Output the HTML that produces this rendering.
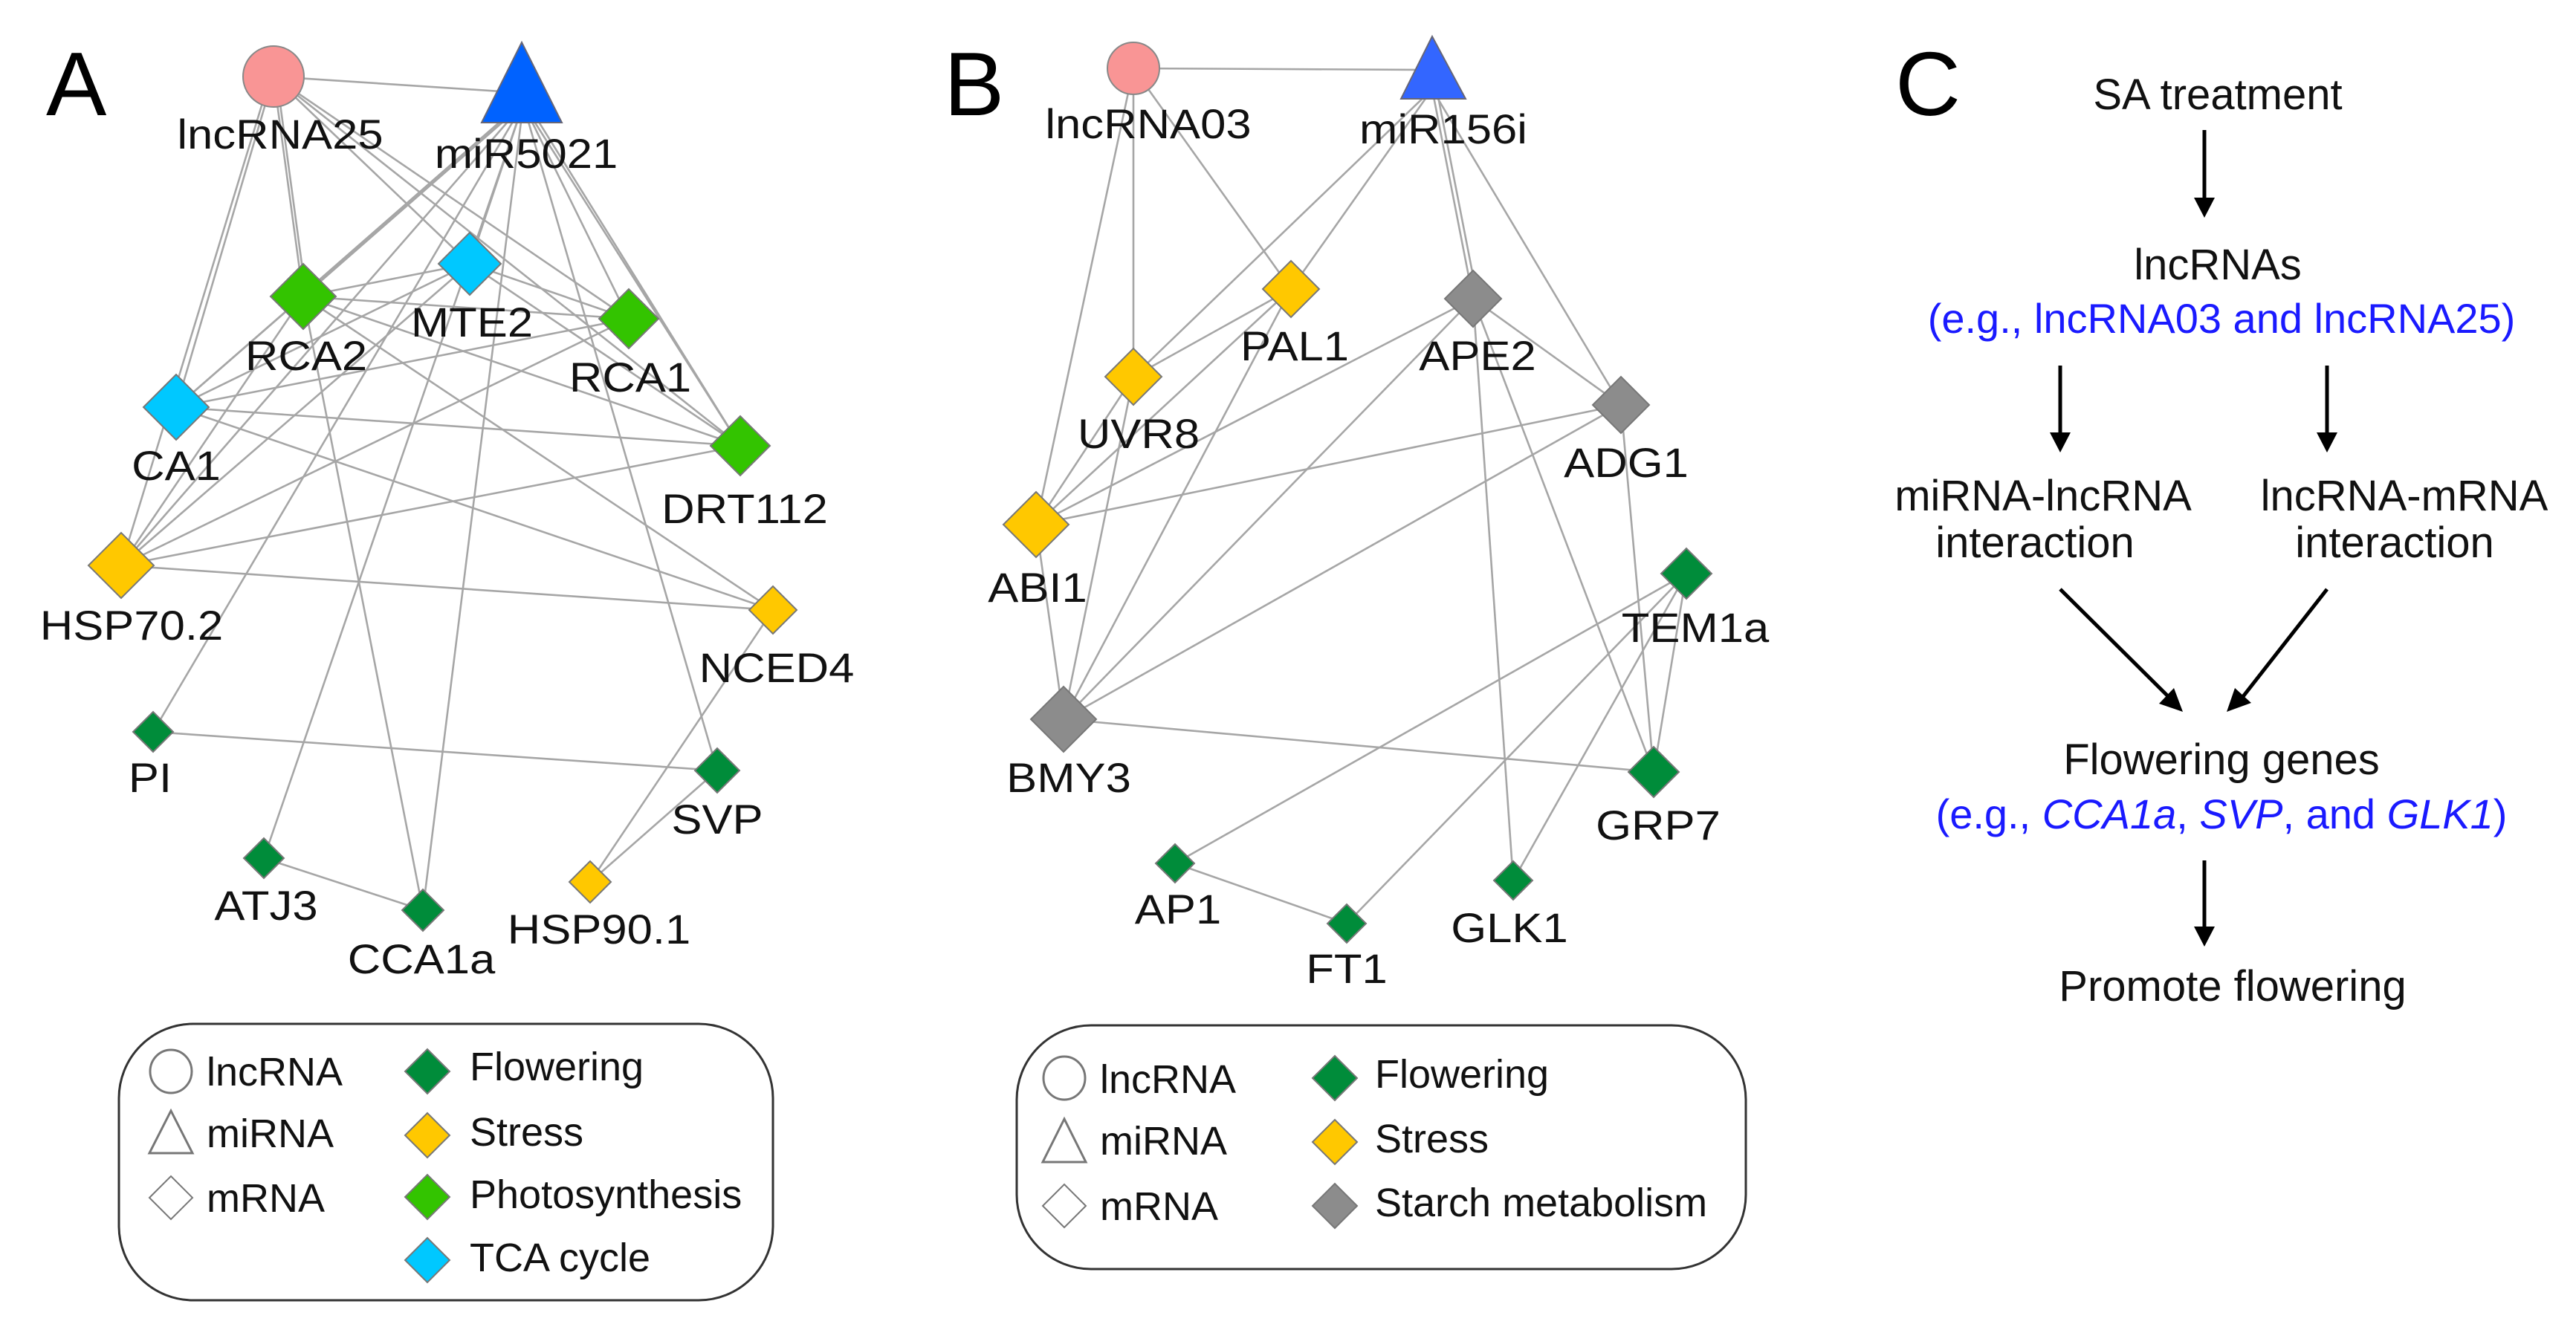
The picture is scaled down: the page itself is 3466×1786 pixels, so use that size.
<!DOCTYPE html>
<html><head><meta charset="utf-8"><style>
html,body{margin:0;padding:0;background:#fff}
svg{display:block}
.n{font-family:"Liberation Sans",Arial,sans-serif;font-size:56px;fill:#111}
.lg{font-family:"Liberation Sans",Arial,sans-serif;font-size:54px;fill:#111}
.c{font-family:"Liberation Sans",Arial,sans-serif;font-size:58px;fill:#111}
.cb{font-family:"Liberation Sans",Arial,sans-serif;font-size:56px;fill:#1a1aff}
.big{font-family:"Liberation Sans",Arial,sans-serif;font-size:122px;fill:#000}
.e line{stroke:#a6a6a6;stroke-width:2.6}
.d{stroke:#777;stroke-width:2;vector-effect:non-scaling-stroke}
</style></head><body>
<svg width="3466" height="1786" viewBox="0 0 3466 1786" xmlns="http://www.w3.org/2000/svg">
<rect width="3466" height="1786" fill="#fff"/>
<text class="big" x="62" y="155">A</text>
<text class="big" x="1270" y="155">B</text>
<text class="big" x="2550" y="155">C</text>

<!-- Panel A edges -->
<g class="e">
<line x1="368" y1="103" x2="704" y2="125"/>
<line x1="368" y1="103" x2="408" y2="399"/>
<line x1="372" y1="103" x2="412" y2="399"/>
<line x1="368" y1="103" x2="632" y2="355"/>
<line x1="368" y1="103" x2="846" y2="429"/>
<line x1="368" y1="103" x2="996" y2="600"/>
<line x1="368" y1="103" x2="237" y2="548"/>
<line x1="364" y1="103" x2="163" y2="761"/>
<line x1="704" y1="140" x2="408" y2="399"/>
<line x1="700" y1="140" x2="404" y2="399"/>
<line x1="704" y1="140" x2="237" y2="548"/>
<line x1="704" y1="140" x2="163" y2="761"/>
<line x1="704" y1="140" x2="632" y2="355"/>
<line x1="704" y1="140" x2="846" y2="429"/>
<line x1="704" y1="140" x2="996" y2="600"/>
<line x1="710" y1="140" x2="996" y2="600"/>
<line x1="704" y1="140" x2="206" y2="985"/>
<line x1="704" y1="140" x2="355" y2="1155"/>
<line x1="704" y1="140" x2="569" y2="1225"/>
<line x1="704" y1="140" x2="965" y2="1037"/>
<line x1="408" y1="399" x2="632" y2="355"/>
<line x1="408" y1="399" x2="846" y2="429"/>
<line x1="408" y1="399" x2="996" y2="600"/>
<line x1="408" y1="399" x2="237" y2="548"/>
<line x1="408" y1="399" x2="163" y2="761"/>
<line x1="408" y1="399" x2="569" y2="1225"/>
<line x1="408" y1="399" x2="1040" y2="821"/>
<line x1="632" y1="355" x2="237" y2="548"/>
<line x1="632" y1="355" x2="163" y2="761"/>
<line x1="632" y1="355" x2="846" y2="429"/>
<line x1="632" y1="355" x2="996" y2="600"/>
<line x1="237" y1="548" x2="846" y2="429"/>
<line x1="237" y1="548" x2="996" y2="600"/>
<line x1="237" y1="548" x2="1040" y2="821"/>
<line x1="163" y1="761" x2="996" y2="600"/>
<line x1="163" y1="761" x2="846" y2="429"/>
<line x1="163" y1="761" x2="1040" y2="821"/>
<line x1="206" y1="985" x2="965" y2="1037"/>
<line x1="355" y1="1155" x2="569" y2="1225"/>
<line x1="1040" y1="821" x2="794" y2="1187"/>
<line x1="965" y1="1037" x2="794" y2="1187"/>
</g>

<!-- Panel B edges -->
<g class="e">
<line x1="1525" y1="92" x2="1927" y2="94"/>
<line x1="1525" y1="92" x2="1525" y2="507"/>
<line x1="1525" y1="92" x2="1737" y2="389"/>
<line x1="1525" y1="92" x2="1394" y2="706"/>
<line x1="1927" y1="120" x2="1525" y2="507"/>
<line x1="1927" y1="120" x2="1737" y2="389"/>
<line x1="1927" y1="120" x2="1982" y2="402"/>
<line x1="1933" y1="120" x2="1988" y2="402"/>
<line x1="1927" y1="120" x2="2181" y2="545"/>
<line x1="1982" y1="402" x2="2036" y2="1185"/>
<line x1="1982" y1="402" x2="2181" y2="545"/>
<line x1="1982" y1="402" x2="2225" y2="1039"/>
<line x1="1982" y1="402" x2="1394" y2="706"/>
<line x1="1982" y1="402" x2="1431" y2="968"/>
<line x1="1737" y1="389" x2="1525" y2="507"/>
<line x1="1737" y1="389" x2="1394" y2="706"/>
<line x1="1737" y1="389" x2="1431" y2="968"/>
<line x1="1525" y1="507" x2="1394" y2="706"/>
<line x1="1525" y1="507" x2="1431" y2="968"/>
<line x1="2181" y1="545" x2="1394" y2="706"/>
<line x1="2181" y1="545" x2="1431" y2="968"/>
<line x1="2181" y1="545" x2="2225" y2="1039"/>
<line x1="1394" y1="706" x2="1431" y2="968"/>
<line x1="1431" y1="968" x2="2225" y2="1039"/>
<line x1="2269" y1="772" x2="2225" y2="1039"/>
<line x1="2269" y1="772" x2="1581" y2="1162"/>
<line x1="2269" y1="772" x2="1812" y2="1243"/>
<line x1="2269" y1="772" x2="2036" y2="1185"/>
<line x1="1581" y1="1162" x2="1812" y2="1243"/>
</g>

<!-- Panel A nodes -->
<circle cx="368" cy="103" r="41" fill="#f99595" stroke="#888" stroke-width="2"/>
<polygon points="702,57 648,165 756,165" fill="#0062ff" stroke="#667" stroke-width="2"/>
<g>
<polygon class="d" fill="#33c400" points="-1,0 0,-1 1,0 0,1" transform="translate(408,399) scale(44)"/>
<polygon class="d" fill="#00c8ff" points="-1,0 0,-1 1,0 0,1" transform="translate(632,355) scale(42)"/>
<polygon class="d" fill="#33c400" points="-1,0 0,-1 1,0 0,1" transform="translate(846,429) scale(40)"/>
<polygon class="d" fill="#00c8ff" points="-1,0 0,-1 1,0 0,1" transform="translate(237,548) scale(44)"/>
<polygon class="d" fill="#33c400" points="-1,0 0,-1 1,0 0,1" transform="translate(996,600) scale(40)"/>
<polygon class="d" fill="#ffc800" points="-1,0 0,-1 1,0 0,1" transform="translate(163,761) scale(44)"/>
<polygon class="d" fill="#ffc800" points="-1,0 0,-1 1,0 0,1" transform="translate(1040,821) scale(32)"/>
<polygon class="d" fill="#008c3a" points="-1,0 0,-1 1,0 0,1" transform="translate(206,985) scale(27)"/>
<polygon class="d" fill="#008c3a" points="-1,0 0,-1 1,0 0,1" transform="translate(965,1037) scale(30)"/>
<polygon class="d" fill="#008c3a" points="-1,0 0,-1 1,0 0,1" transform="translate(355,1155) scale(27)"/>
<polygon class="d" fill="#008c3a" points="-1,0 0,-1 1,0 0,1" transform="translate(569,1225) scale(28)"/>
<polygon class="d" fill="#ffc800" points="-1,0 0,-1 1,0 0,1" transform="translate(794,1187) scale(28)"/>
</g>
<g class="n" text-anchor="middle">
<text transform="translate(377,200) scale(1.1,1)">lncRNA25</text>
<text transform="translate(708,226) scale(1.1,1)">miR5021</text>
<text transform="translate(412,498) scale(1.1,1)">RCA2</text>
<text transform="translate(635,453) scale(1.1,1)">MTE2</text>
<text transform="translate(848,527) scale(1.1,1)">RCA1</text>
<text transform="translate(237,646) scale(1.1,1)">CA1</text>
<text transform="translate(1002,704) scale(1.1,1)">DRT112</text>
<text transform="translate(177,861) scale(1.1,1)">HSP70.2</text>
<text transform="translate(1045,918) scale(1.1,1)">NCED4</text>
<text transform="translate(202,1066) scale(1.1,1)">PI</text>
<text transform="translate(965,1122) scale(1.1,1)">SVP</text>
<text transform="translate(358,1238) scale(1.1,1)">ATJ3</text>
<text transform="translate(567,1310) scale(1.1,1)">CCA1a</text>
<text transform="translate(806,1270) scale(1.1,1)">HSP90.1</text>
</g>

<!-- Panel B nodes -->
<circle cx="1525" cy="92" r="35" fill="#f99595" stroke="#888" stroke-width="2"/>
<polygon points="1927,49 1885,133 1972,133" fill="#3366ff" stroke="#667" stroke-width="2"/>
<g>
<polygon class="d" fill="#ffc800" points="-1,0 0,-1 1,0 0,1" transform="translate(1737,389) scale(38)"/>
<polygon class="d" fill="#8c8c8c" points="-1,0 0,-1 1,0 0,1" transform="translate(1982,402) scale(38)"/>
<polygon class="d" fill="#ffc800" points="-1,0 0,-1 1,0 0,1" transform="translate(1525,507) scale(38)"/>
<polygon class="d" fill="#8c8c8c" points="-1,0 0,-1 1,0 0,1" transform="translate(2181,545) scale(38)"/>
<polygon class="d" fill="#ffc800" points="-1,0 0,-1 1,0 0,1" transform="translate(1394,706) scale(44)"/>
<polygon class="d" fill="#008c3a" points="-1,0 0,-1 1,0 0,1" transform="translate(2269,772) scale(34)"/>
<polygon class="d" fill="#8c8c8c" points="-1,0 0,-1 1,0 0,1" transform="translate(1431,968) scale(44)"/>
<polygon class="d" fill="#008c3a" points="-1,0 0,-1 1,0 0,1" transform="translate(2225,1039) scale(34)"/>
<polygon class="d" fill="#008c3a" points="-1,0 0,-1 1,0 0,1" transform="translate(1581,1162) scale(26)"/>
<polygon class="d" fill="#008c3a" points="-1,0 0,-1 1,0 0,1" transform="translate(1812,1243) scale(26)"/>
<polygon class="d" fill="#008c3a" points="-1,0 0,-1 1,0 0,1" transform="translate(2036,1185) scale(26)"/>
</g>
<g class="n" text-anchor="middle">
<text transform="translate(1545,186) scale(1.1,1)">lncRNA03</text>
<text transform="translate(1942,193) scale(1.1,1)">miR156i</text>
<text transform="translate(1742,485) scale(1.1,1)">PAL1</text>
<text transform="translate(1988,498) scale(1.1,1)">APE2</text>
<text transform="translate(1532,603) scale(1.1,1)">UVR8</text>
<text transform="translate(2188,642) scale(1.1,1)">ADG1</text>
<text transform="translate(1396,810) scale(1.1,1)">ABI1</text>
<text transform="translate(2281,864) scale(1.1,1)">TEM1a</text>
<text transform="translate(1438,1066) scale(1.1,1)">BMY3</text>
<text transform="translate(2231,1130) scale(1.1,1)">GRP7</text>
<text transform="translate(1585,1243) scale(1.1,1)">AP1</text>
<text transform="translate(1812,1323) scale(1.1,1)">FT1</text>
<text transform="translate(2031,1268) scale(1.1,1)">GLK1</text>
</g>

<!-- Legend A -->
<rect x="160" y="1378" width="880" height="372" rx="100" ry="100" fill="none" stroke="#333" stroke-width="3"/>
<ellipse cx="230" cy="1442" rx="28" ry="29" fill="none" stroke="#777" stroke-width="3"/>
<polygon points="230,1495 201,1552 259,1552" fill="none" stroke="#777" stroke-width="3"/>
<polygon class="d" fill="none" points="-1,0 0,-1 1,0 0,1" transform="translate(230,1612) scale(29)"/>
<polygon class="d" fill="#008c3a" points="-1,0 0,-1 1,0 0,1" transform="translate(575,1442) scale(30)"/>
<polygon class="d" fill="#ffc800" points="-1,0 0,-1 1,0 0,1" transform="translate(575,1528) scale(30)"/>
<polygon class="d" fill="#33c400" points="-1,0 0,-1 1,0 0,1" transform="translate(575,1611) scale(30)"/>
<polygon class="d" fill="#00c8ff" points="-1,0 0,-1 1,0 0,1" transform="translate(575,1696) scale(30)"/>
<g class="lg">
<text x="278" y="1461">lncRNA</text>
<text x="278" y="1544">miRNA</text>
<text x="278" y="1631">mRNA</text>
<text x="632" y="1454">Flowering</text>
<text x="632" y="1542">Stress</text>
<text x="632" y="1626">Photosynthesis</text>
<text x="632" y="1711">TCA cycle</text>
</g>

<!-- Legend B -->
<rect x="1368" y="1380" width="981" height="328" rx="100" ry="100" fill="none" stroke="#333" stroke-width="3"/>
<ellipse cx="1432" cy="1451" rx="28" ry="29" fill="none" stroke="#777" stroke-width="3"/>
<polygon points="1432,1506 1403,1564 1461,1564" fill="none" stroke="#777" stroke-width="3"/>
<polygon class="d" fill="none" points="-1,0 0,-1 1,0 0,1" transform="translate(1432,1623) scale(29)"/>
<polygon class="d" fill="#008c3a" points="-1,0 0,-1 1,0 0,1" transform="translate(1796,1451) scale(30)"/>
<polygon class="d" fill="#ffc800" points="-1,0 0,-1 1,0 0,1" transform="translate(1796,1537) scale(30)"/>
<polygon class="d" fill="#8c8c8c" points="-1,0 0,-1 1,0 0,1" transform="translate(1796,1623) scale(30)"/>
<g class="lg">
<text x="1480" y="1471">lncRNA</text>
<text x="1480" y="1554">miRNA</text>
<text x="1480" y="1642">mRNA</text>
<text x="1850" y="1464">Flowering</text>
<text x="1850" y="1551">Stress</text>
<text x="1850" y="1637">Starch metabolism</text>
</g>

<!-- Panel C -->
<g class="c" text-anchor="middle">
<text x="2984" y="147">SA treatment</text>
<text x="2984" y="376">lncRNAs</text>
<text x="2749" y="687">miRNA-lncRNA</text>
<text x="2738" y="750">interaction</text>
<text x="3235" y="687">lncRNA-mRNA</text>
<text x="3222" y="750">interaction</text>
<text x="2989" y="1042">Flowering genes</text>
<text x="3004" y="1347">Promote flowering</text>
</g>
<g class="cb" text-anchor="middle">
<text x="2989" y="448">(e.g., lncRNA03 and lncRNA25)</text>
<text x="2989" y="1115">(e.g., <tspan font-style="italic">CCA1a</tspan>, <tspan font-style="italic">SVP</tspan>, and <tspan font-style="italic">GLK1</tspan>)</text>
</g>
<g stroke="#000" stroke-width="5" fill="#000">
<line x1="2966" y1="175" x2="2966" y2="270"/>
<polygon points="2952,266 2980,266 2966,293" stroke="none"/>
<line x1="2772" y1="492" x2="2772" y2="585"/>
<polygon points="2758,582 2786,582 2772,609" stroke="none"/>
<line x1="3131" y1="492" x2="3131" y2="585"/>
<polygon points="3117,582 3145,582 3131,609" stroke="none"/>
<line x1="2772" y1="793" x2="2920" y2="940"/>
<polygon points="2905,947 2925,926 2937,958" stroke="none"/>
<line x1="3131" y1="793" x2="3016" y2="940"/>
<polygon points="3007,926 3029,946 2996,958" stroke="none"/>
<line x1="2966" y1="1158" x2="2966" y2="1250"/>
<polygon points="2952,1247 2980,1247 2966,1274" stroke="none"/>
</g>
</svg>
</body></html>
